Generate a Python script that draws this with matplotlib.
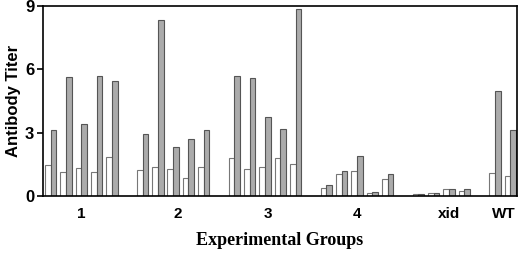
import matplotlib
matplotlib.use("Agg")
import numpy as np
from matplotlib import pyplot as plt

# slot index of each pair (one empty slot between groups)
slots = [0, 1, 2, 3, 4,
         6, 7, 8, 9, 10,
         12, 13, 14, 15, 16,
         18, 19, 20, 21, 22,
         24, 25, 26, 27,
         29, 30]
white_vals = [1.47, 1.12, 1.31, 1.15, 1.85,
              1.25, 1.36, 1.26, 0.84, 1.39,
              1.80, 1.26, 1.39, 1.79, 1.52,
              0.39, 1.03, 1.18, 0.13, 0.79,
              0.08, 0.13, 0.33, 0.24,
              1.09, 0.96]
gray_vals = [3.10, 5.62, 3.41, 5.65, 5.43,
             2.94, 8.31, 2.34, 2.72, 3.11,
             5.65, 5.58, 3.76, 3.16, 8.85,
             0.52, 1.17, 1.90, 0.17, 1.04,
             0.08, 0.13, 0.33, 0.32,
             4.96, 3.14]
group_labels = ['1', '2', '3', '4', 'xid', 'WT']
group_pos = [2.0, 8.3, 14.2, 20.0, 26.0, 29.6]

plt.rcParams['font.family'] = ['Liberation Sans', 'DejaVu Sans']

fig = plt.figure(figsize=(5.2, 2.54), dpi=100)
ax = fig.add_axes([0.082, 0.228, 0.913, 0.75])

x = np.array(slots, dtype=float)
w = 0.37
ax.bar(x - w / 2, white_vals, width=w, color='white', edgecolor='#777777', linewidth=0.8)
ax.bar(x + w / 2, gray_vals, width=w, color='#ababab', edgecolor='#555555', linewidth=0.8)

ax.set_xlim(-0.52, 30.47)
ax.set_ylim(0, 9)
ax.set_yticks([0, 3, 6, 9])
ax.set_yticklabels(['0', '3', '6', '9'], fontsize=12, fontweight='bold')
ax.tick_params(axis='y', direction='out', length=4, width=1.2, pad=2)
ax.set_xticks(group_pos)
ax.set_xticklabels(group_labels, fontsize=11, fontweight='bold')
ax.tick_params(axis='x', length=0, pad=8)
for s in ax.spines.values():
    s.set_linewidth(1.2)

ax.set_ylabel('Antibody Titer', fontsize=12, fontweight='bold', labelpad=3)
ax.set_xlabel('Experimental Groups', fontsize=13, fontweight='bold',
              family='Liberation Serif', labelpad=8)

fig.savefig('out.png', dpi=100)
